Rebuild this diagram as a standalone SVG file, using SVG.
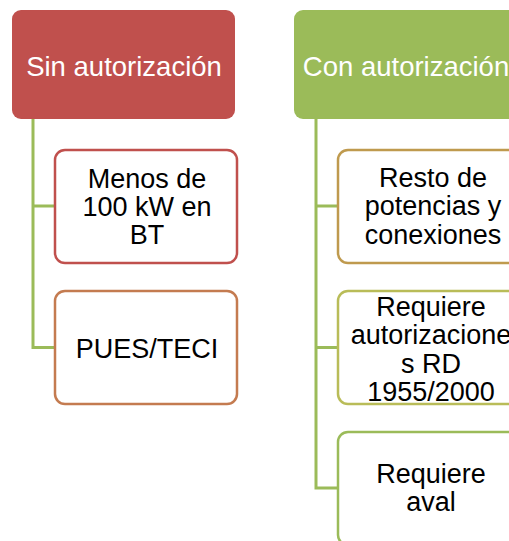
<svg xmlns="http://www.w3.org/2000/svg" width="509" height="541" viewBox="0 0 509 541">
<style>
text{font-family:"Liberation Sans",Arial,sans-serif;text-anchor:middle}
.h{font-size:27.5px;fill:#fff}
.c{font-size:27px;fill:#000}
.conn{stroke:#9BBB59;stroke-width:3;fill:none}
.box{fill:#fff;stroke-width:2.5}
</style>
<rect width="509" height="541" fill="#fff"/>
<g id="connectors">
<path class="conn" d="M33 119V347.5H55M33 206H55"/>
<path class="conn" d="M316 119V488H338M316 206H338M316 347.5H338"/>
</g>
<g id="sin">
<rect x="12" y="10" width="223" height="109" rx="9" fill="#C0504D"/>
<text class="h" x="124" y="76">Sin autorización</text>
</g>
<g id="con">
<rect x="294" y="10" width="230" height="109" rx="9" fill="#9BBB59"/>
<text class="h" x="406" y="76">Con autorización</text>
</g>
<g id="menos">
<rect class="box" x="55" y="150" width="182" height="113" rx="10" stroke="#C0504D"/>
<text class="c" x="147" y="188">Menos de</text>
<text class="c" x="147" y="216">100 kW en</text>
<text class="c" x="147" y="244">BT</text>
</g>
<g id="pues">
<rect class="box" x="55" y="291" width="182" height="113" rx="10" stroke="#C47B50"/>
<text class="c" x="147" y="358">PUES/TECI</text>
</g>
<g id="resto">
<rect class="box" x="338" y="150" width="182" height="113" rx="10" stroke="#BF9A4E"/>
<text class="c" x="433" y="187">Resto de</text>
<text class="c" x="433" y="215">potencias y</text>
<text class="c" x="433" y="244">conexiones</text>
</g>
<g id="requiere-aut">
<rect class="box" x="338" y="291" width="182" height="113" rx="10" stroke="#B9BC58"/>
<text class="c" x="431" y="316">Requiere</text>
<text class="c" x="431" y="344">autorizacione</text>
<text class="c" x="431" y="373">s RD</text>
<text class="c" x="431" y="401">1955/2000</text>
</g>
<g id="requiere-aval">
<rect class="box" x="338" y="432" width="182" height="113" rx="10" stroke="#9BBB59"/>
<text class="c" x="431" y="483">Requiere</text>
<text class="c" x="431" y="511">aval</text>
</g>
</svg>
